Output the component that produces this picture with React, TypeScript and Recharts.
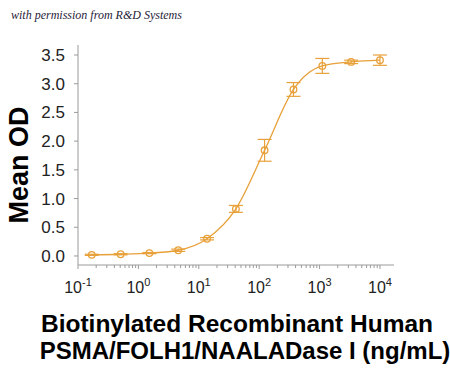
import React from "react";
import { ComposedChart, Line, XAxis, YAxis, ErrorBar } from "recharts";

const concentrations = [0.169, 0.508, 1.52, 4.57, 13.7, 41.2, 123, 370, 1111, 3333, 10000];
const meanOD = [0.02, 0.03, 0.05, 0.1, 0.3, 0.82, 1.84, 2.9, 3.31, 3.38, 3.41];
const errorOD = [0.01, 0.01, 0.01, 0.02, 0.02, 0.06, 0.19, 0.12, 0.13, 0.03, 0.09];

const yTicks = [0, 0.5, 1, 1.5, 2, 2.5, 3, 3.5];
const majorTicks = [0.1, 1, 10, 100, 1000, 10000];
const minorMultipliers = [2, 3, 4, 5, 6, 7, 8, 9];

const X_MAX = 17080;
const ORANGE = "#E8A13A";
const AXIS = "#9a9a9a";
const FONT = "'Liberation Sans', Arial, sans-serif";

const data = concentrations.map((c, i) => ({ x: c, y: meanOD[i], err: errorOD[i] }));

const xTicks: number[] = [];
majorTicks.forEach((m) => {
  xTicks.push(m);
  minorMultipliers.forEach((k) => {
    const v = m * k;
    if (v <= X_MAX) xTicks.push(v);
  });
});

const XTick = (props: any) => {
  const { x, y, payload } = props;
  const v = payload.value;
  const lg = Math.log10(v);
  const e = Math.round(lg);
  const major = Math.abs(lg - e) < 1e-6;
  return (
    <g>
      <line x1={x} x2={x} y1={y} y2={y + (major ? 4 : 3)} stroke={AXIS} strokeWidth={1} />
      {major && (
        <text x={x} y={y + 28} textAnchor="middle" fontSize={16} fill="#222" fontFamily={FONT}>
          <tspan>10</tspan>
          <tspan dy={-7} fontSize={11}>{String(e)}</tspan>
        </text>
      )}
    </g>
  );
};

const Dot = (props: any) => {
  const { cx, cy } = props;
  if (cx == null || cy == null) return null;
  return <circle cx={cx} cy={cy} r={3.3} fill="none" stroke={ORANGE} strokeWidth={1.3} />;
};

export default function App() {
  return (
    <div style={{ position: "absolute", left: 0, top: 0, width: 450, height: 368, background: "#fff" }}>
      <ComposedChart
        width={450}
        height={368}
        data={data}
        margin={{ top: 45, right: 56, left: 0, bottom: 73 }}
      >
        <XAxis
          dataKey="x"
          type="number"
          scale="log"
          domain={[0.1, X_MAX]}
          allowDataOverflow
          ticks={xTicks}
          interval={0}
          tick={<XTick />}
          tickLine={false}
          tickSize={0}
          tickMargin={0}
          height={30}
          axisLine={{ stroke: AXIS, strokeWidth: 1 }}
        />
        <YAxis
          type="number"
          domain={[-0.157, 3.674]}
          allowDataOverflow
          ticks={yTicks}
          interval={0}
          width={78}
          tickSize={4}
          tickMargin={9}
          tickFormatter={(v: number) => v.toFixed(1)}
          tick={{ fontSize: 17, fill: "#222", fontFamily: FONT }}
          tickLine={{ stroke: AXIS }}
          axisLine={{ stroke: AXIS, strokeWidth: 1 }}
        />
        <Line
          dataKey="y"
          type="monotone"
          stroke={ORANGE}
          strokeWidth={1.3}
          dot={<Dot />}
          activeDot={false}
          isAnimationActive={false}
        >
          <ErrorBar dataKey="err" width={7} stroke={ORANGE} strokeWidth={1.2} direction="y" />
        </Line>
      </ComposedChart>
      <svg
        width={450}
        height={368}
        style={{ position: "absolute", left: 0, top: 0, pointerEvents: "none" }}
      >
        <text x={11} y={19} fontSize={12} fontStyle="italic" fill="#1f2238" fontFamily="'Liberation Serif', 'DejaVu Serif', serif">
          with permission from R&amp;D Systems
        </text>
        <text
          transform="translate(28,165) rotate(-90)"
          textAnchor="middle"
          fontSize={27}
          fontWeight="bold"
          fill="#000"
          fontFamily={FONT}
        >
          Mean OD
        </text>
        <text x={237} y={332} textAnchor="middle" fontSize={24.5} fontWeight="bold" fill="#000" fontFamily={FONT}>
          Biotinylated Recombinant Human
        </text>
        <text x={245} y={359} textAnchor="middle" fontSize={24} fontWeight="bold" fill="#000" fontFamily={FONT}>
          PSMA/FOLH1/NAALADase I (ng/mL)
        </text>
      </svg>
    </div>
  );
}
